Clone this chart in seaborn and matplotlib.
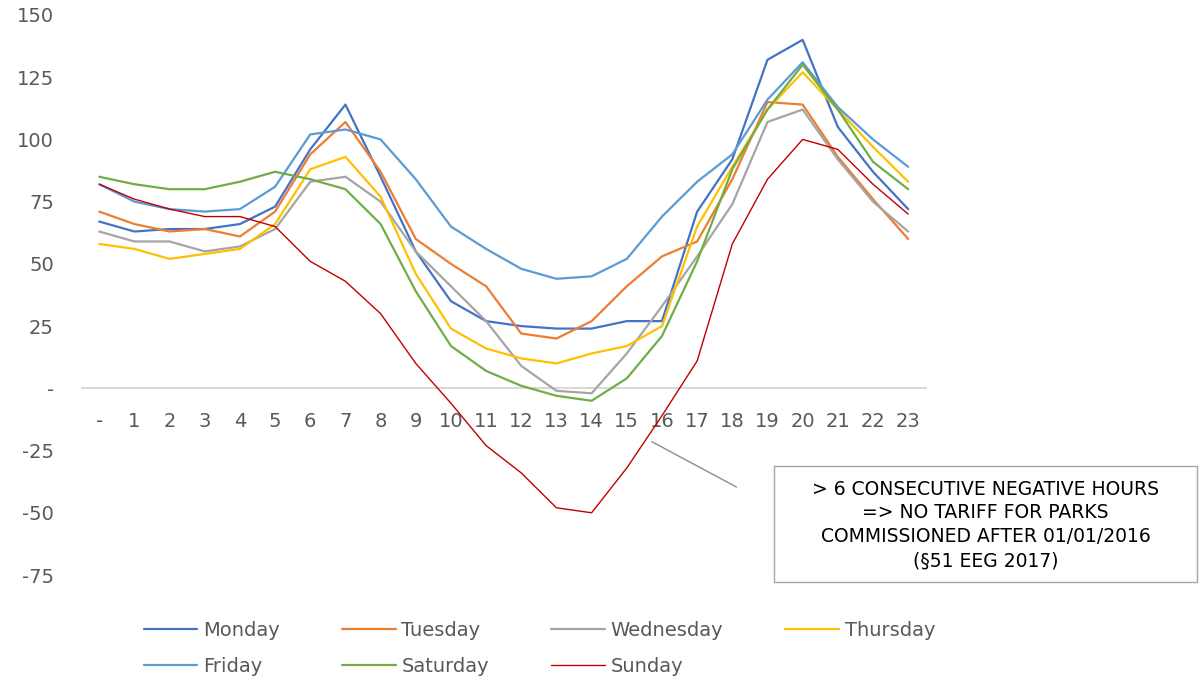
import matplotlib
matplotlib.use("Agg")
import matplotlib.pyplot as plt
import matplotlib.patches as mpatches
import seaborn as sns

hours = list(range(24))
hour_labels = ["-"] + [str(h) for h in range(1, 24)]
ytick_values = [-75, -50, -25, 0, 25, 50, 75, 100, 125, 150]
ytick_labels = ["-75", "-50", "-25", "-", "25", "50", "75", "100", "125", "150"]

days = ["Monday", "Tuesday", "Wednesday", "Thursday", "Friday", "Saturday", "Sunday"]
monday = [67, 63, 64, 64, 66, 73, 96, 114, 85, 55, 35, 27, 25, 24, 24, 27, 27, 71, 92, 132, 140, 105, 87, 72]
tuesday = [71, 66, 63, 64, 61, 71, 94, 107, 87, 60, 50, 41, 22, 20, 27, 41, 53, 59, 84, 115, 114, 93, 76, 60]
wednesday = [63, 59, 59, 55, 57, 64, 83, 85, 75, 55, 41, 27, 9, -1, -2, 14, 33, 53, 74, 107, 112, 92, 75, 63]
thursday = [58, 56, 52, 54, 56, 66, 88, 93, 77, 46, 24, 16, 12, 10, 14, 17, 25, 65, 89, 112, 127, 112, 97, 83]
friday = [82, 75, 72, 71, 72, 81, 102, 104, 100, 84, 65, 56, 48, 44, 45, 52, 69, 83, 94, 116, 131, 113, 100, 89]
saturday = [85, 82, 80, 80, 83, 87, 84, 80, 66, 39, 17, 7, 1, -3, -5, 4, 21, 51, 88, 112, 130, 112, 91, 80]
sunday = [82, 76, 72, 69, 69, 65, 51, 43, 30, 10, -6, -23, -34, -48, -50, -32, -11, 11, 58, 84, 100, 96, 82, 70]

series = [monday, tuesday, wednesday, thursday, friday, saturday, sunday]
colors = ["#4472C4", "#ED7D31", "#A5A5A5", "#FFC000", "#5B9BD5", "#70AD47", "#C00000"]
widths = [1.6, 1.6, 1.6, 1.6, 1.6, 1.6, 1.0]

note_text = "> 6 CONSECUTIVE NEGATIVE HOURS\n=> NO TARIFF FOR PARKS\nCOMMISSIONED AFTER 01/01/2016\n(§51 EEG 2017)"

sns.set_style("white")
plt.rcParams["font.family"] = ["DejaVu Sans"]

fig = plt.figure(figsize=(11.99, 6.8), dpi=100)
ax = fig.add_axes([0.0681, 0.1544, 0.704, 0.8236])

for day, values, color, lw in zip(days, series, colors, widths):
    sns.lineplot(x=hours, y=values, color=color, linewidth=lw, label=day, ax=ax)

ax.set_xlim(-0.5, 23.5)
ax.set_ylim(-75, 150)
ax.set_xticks(hours)
ax.set_xticklabels(hour_labels)
ax.set_yticks(ytick_values)
ax.set_yticklabels(ytick_labels)
ax.set_xlabel("")
ax.set_ylabel("")

for side in ["top", "right", "left"]:
    ax.spines[side].set_visible(False)
ax.spines["bottom"].set_position(("data", 0))
ax.spines["bottom"].set_color("#D9D9D9")
ax.spines["bottom"].set_linewidth(1.5)
ax.spines["bottom"].set_zorder(0)

ax.tick_params(axis="x", length=0, pad=17, labelsize=14, labelcolor="#595959")
ax.tick_params(axis="y", length=0, pad=20, labelsize=14, labelcolor="#595959")

# callout line from the Sunday dip to the note box
ax.annotate("", xy=(15.64, -20.9), xytext=(18.19, -40.2),
            arrowprops=dict(arrowstyle="-", color="#8C8C8C", lw=1.0),
            annotation_clip=False)

box = mpatches.Rectangle((0.6455, 0.1441), 0.3528, 0.1706, transform=fig.transFigure,
                         facecolor="white", edgecolor="#A6A6A6", lw=1.0)
fig.patches.append(box)
fig.text(0.822, 0.228, note_text, ha="center", va="center", fontsize=13.5,
         color="black", linespacing=1.33)

handles, labels = ax.get_legend_handles_labels()
order = [0, 4, 1, 5, 2, 6, 3]
ax.legend([handles[i] for i in order], [labels[i] for i in order],
          ncol=4, loc="upper left", bbox_to_anchor=(0.12, 0.0874),
          bbox_transform=fig.transFigure, frameon=False, fontsize=14,
          handlelength=2.75, handletextpad=0.3, columnspacing=3.2,
          labelspacing=0.9, borderpad=0, borderaxespad=0, labelcolor="#595959")

fig.savefig("out.png", dpi=100)
